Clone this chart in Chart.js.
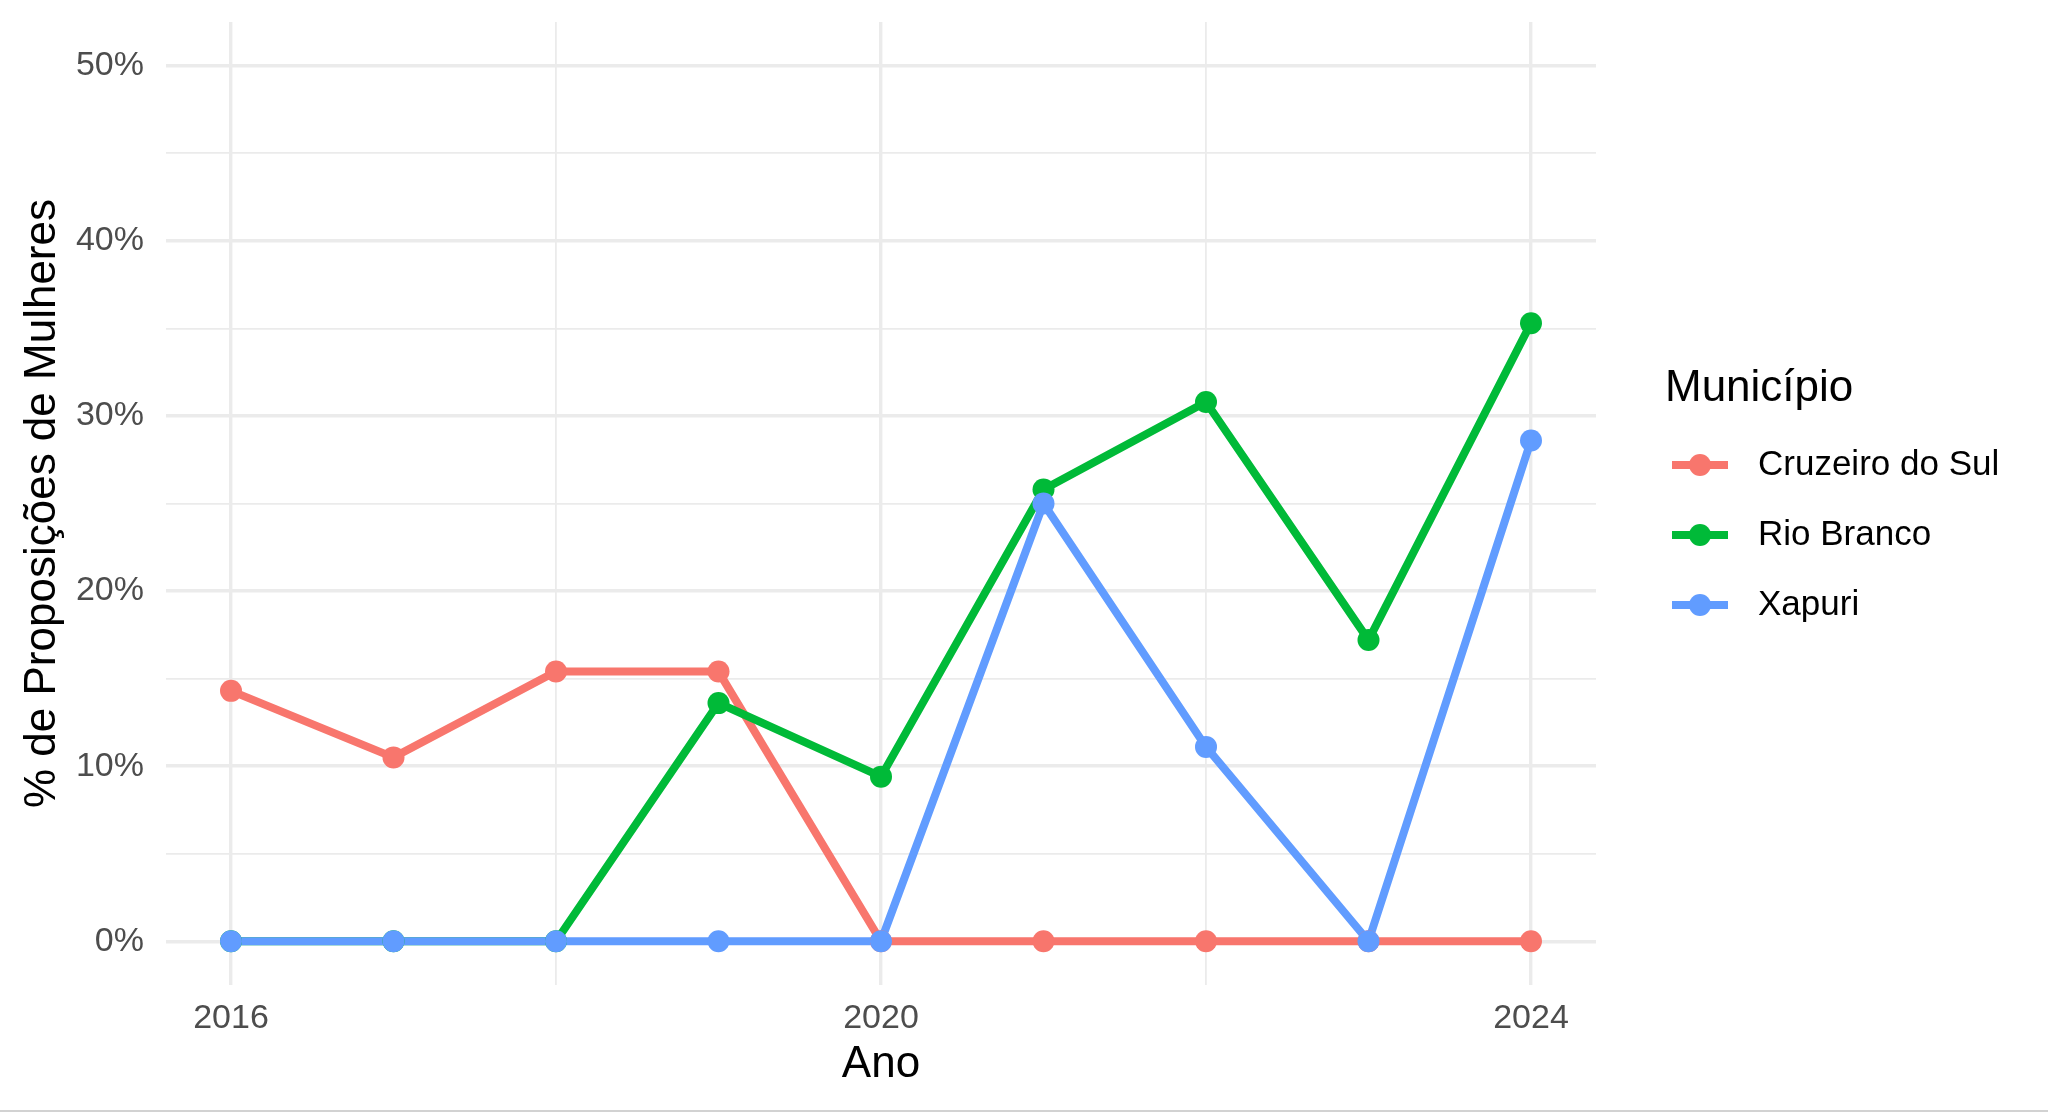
<!DOCTYPE html>
<html>
<head>
<meta charset="utf-8">
<script src="https://cdn.jsdelivr.net/npm/chart.js@4.4.1/dist/chart.umd.min.js"></script>
<style>
  html, body { margin: 0; background: #fff; }
  #wrap { width: 2048px; height: 1112px; border-bottom: 2px solid #d2d2d2; box-sizing: border-box; }
</style>
</head>
<body>
<div id="wrap"><canvas id="chart" width="2048" height="1110"></canvas></div>
<script>
// Data (percent of propositions by women).
const YEARS = [2016, 2017, 2018, 2019, 2020, 2021, 2022, 2023, 2024];
const CRUZEIRO_DO_SUL = [14.3, 10.5, 15.4, 15.4, 0, 0, 0, 0, 0];
const RIO_BRANCO = [0, 0, 0, 13.6, 9.4, 25.8, 30.8, 17.2, 35.3];
const XAPURI = [0, 0, 0, 0, 0, 25.0, 11.1, 0, 28.6];

const SERIES_NAMES = ['Cruzeiro do Sul', 'Rio Branco', 'Xapuri'];
const SERIES_VALUES = [CRUZEIRO_DO_SUL, RIO_BRANCO, XAPURI];
const SERIES_COLORS = ['#F8766D', '#00BA38', '#619CFF'];

const X_TICKS = [2016, 2018, 2020, 2022, 2024];
const Y_TICKS = [0, 5, 10, 15, 20, 25, 30, 35, 40, 45, 50];
const LEGEND_TITLE = 'Município';
const X_TITLE = 'Ano';
const Y_TITLE = '% de Proposições de Mulheres';

const FONT = '"Liberation Sans", Arial, sans-serif';
Chart.defaults.font.family = FONT;

const points = ( vals ) => YEARS.map( ( y, i ) => ( { x: y, y: vals[ i ] } ) );

// ggplot draws every line first, then every point; mimic with two dataset groups.
const datasets = [];
SERIES_NAMES.forEach( ( name, i ) => {
  datasets.push( {
    label: name,
    legendKey: true,
    data: points( SERIES_VALUES[ i ] ),
    borderColor: SERIES_COLORS[ i ],
    backgroundColor: SERIES_COLORS[ i ],
    borderWidth: 8,
    pointRadius: 0,
    tension: 0,
    showLine: true,
    order: 5 - i,
  } );
} );
SERIES_NAMES.forEach( ( name, i ) => {
  datasets.push( {
    label: name + ' pts',
    data: points( SERIES_VALUES[ i ] ),
    borderColor: SERIES_COLORS[ i ],
    backgroundColor: SERIES_COLORS[ i ],
    borderWidth: 0,
    pointRadius: 11,
    showLine: false,
    order: 2 - i,
  } );
} );

const sideLegend = {
  id: 'sideLegend',
  afterDraw( chart ) {
    const ctx = chart.ctx;
    ctx.save();
    ctx.fillStyle = '#000';
    ctx.textBaseline = 'middle';
    ctx.textAlign = 'left';
    ctx.font = '44px ' + FONT;
    ctx.fillText( LEGEND_TITLE, 1665, 389 );
    ctx.font = '35px ' + FONT;
    chart.data.datasets.filter( ( d ) => d.legendKey ).forEach( ( d, i ) => {
      const y = 465 + i * 70;
      ctx.strokeStyle = d.borderColor;
      ctx.lineWidth = 8;
      ctx.beginPath();
      ctx.moveTo( 1672, y );
      ctx.lineTo( 1728, y );
      ctx.stroke();
      ctx.fillStyle = d.borderColor;
      ctx.beginPath();
      ctx.arc( 1700, y, 11, 0, Math.PI * 2 );
      ctx.fill();
      ctx.fillStyle = '#000';
      ctx.fillText( d.label, 1758, y );
    } );
    ctx.restore();
  },
};

new Chart( document.getElementById( 'chart' ), {
  type: 'scatter',
  data: { datasets },
  plugins: [ sideLegend ],
  options: {
    responsive: false,
    animation: false,
    layout: { padding: { top: 22, right: 452, left: 0, bottom: 0 } },
    plugins: { legend: { display: false }, tooltip: { enabled: false } },
    scales: {
      x: {
        type: 'linear',
        min: 2015.6,
        max: 2024.4,
        afterBuildTicks: ( s ) => { s.ticks = X_TICKS.map( ( v ) => ( { value: v } ) ); },
        afterFit: ( s ) => { s.height = 125; s.paddingLeft = 0; s.paddingRight = 0; },
        border: { display: false },
        grid: {
          color: '#EBEBEB',
          lineWidth: ( c ) => ( c.tick && c.tick.value % 4 === 0 ? 3.4 : 1.8 ),
          drawTicks: false,
        },
        ticks: {
          autoSkip: false,
          maxRotation: 0,
          padding: 13,
          color: '#4D4D4D',
          font: { size: 34 },
          callback: ( v ) => ( v % 4 === 0 ? String( v ) : '' ),
        },
        title: { display: true, text: X_TITLE, color: '#000', font: { size: 44 }, padding: { top: 0, bottom: 19 } },
      },
      y: {
        min: -2.5,
        max: 52.5,
        afterBuildTicks: ( s ) => { s.ticks = Y_TICKS.map( ( v ) => ( { value: v } ) ); },
        afterFit: ( s ) => { s.width = 166; s.paddingTop = 0; s.paddingBottom = 0; },
        border: { display: false },
        grid: {
          color: '#EBEBEB',
          lineWidth: ( c ) => ( c.tick && c.tick.value % 10 === 0 ? 3.4 : 1.8 ),
          drawTicks: false,
        },
        ticks: {
          autoSkip: false,
          padding: 22,
          color: '#4D4D4D',
          font: { size: 34 },
          callback: ( v ) => ( v % 10 === 0 ? v + '%' : '' ),
        },
        title: { display: true, text: Y_TITLE, color: '#000', font: { size: 44 }, padding: { top: 16, bottom: 0 } },
      },
    },
  },
} );
</script>
</body>
</html>
